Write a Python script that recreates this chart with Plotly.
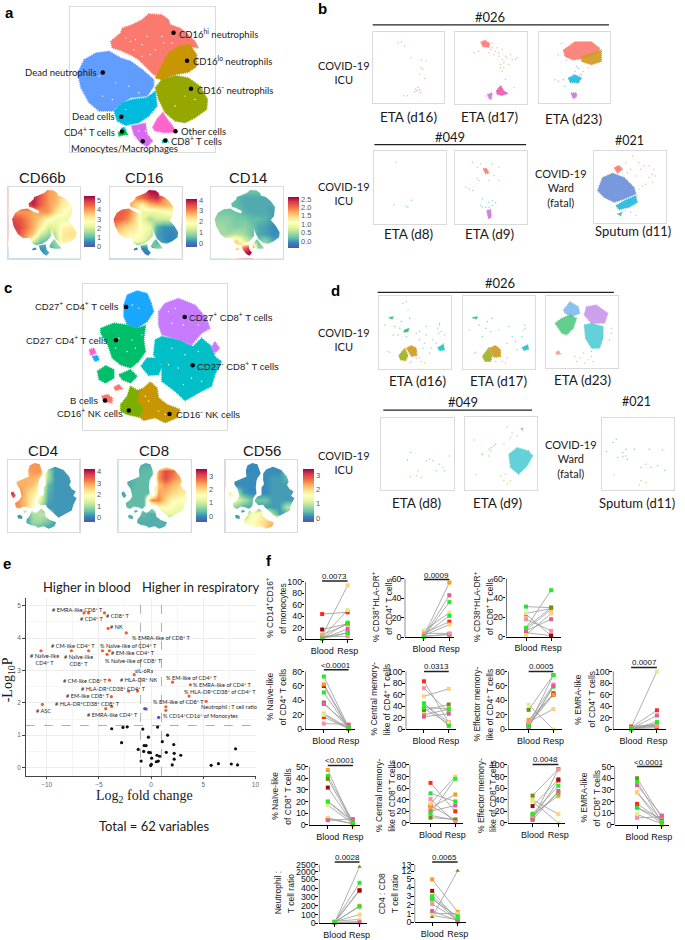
import plotly.graph_objects as go

W, H = 685, 940
SANS = "Liberation Sans"
CAL = "Lato"
SERIF = "Liberation Serif"
SPECTRAL = ["#5E4FA2","#3288BD","#66C2A5","#ABDDA4","#E6F598","#FFFFBF","#FEE08B","#FDAE61","#F46D43","#D53E4F","#9E0142"]
SPEC = [[i/10, c] for i, c in enumerate(SPECTRAL)]

# ---------- panel a: t-SNE cluster outlines (map units) ----------
A_RANGE = (212, 650, 460, 22)
A_CLUSTERS = [
 ("#619CFF", [(255,180),(290,160),(330,155),(365,175),(395,185),(430,210),(465,240),(465,260),(445,290),(395,295),(370,310),(340,335),(300,335),(270,310),(245,265),(235,220)]),
 ("#00BBDD", [(345,335),(370,310),(400,300),(445,295),(470,275),(475,320),(450,350),(420,370),(380,378),(355,365)]),
 ("#FA7A70", [(335,125),(365,100),(370,85),(400,75),(430,60),(450,42),(490,45),(510,60),(515,75),(545,85),(575,110),(590,125),(600,145),(575,140),(530,150),(510,170),(490,205),(480,230),(465,225),(440,200),(420,180),(395,165),(360,150),(340,145)]),
 ("#C89600", [(510,160),(540,140),(575,135),(595,165),(595,200),(570,218),(530,225),(490,240),(470,235),(485,205)]),
 ("#96A800", [(470,265),(490,240),(530,228),(570,235),(605,260),(628,300),(625,330),(590,355),(560,370),(530,365),(500,340),(480,300)]),
 ("#FF66CC", [(462,385),(475,360),(492,340),(510,365),(535,398),(500,400),(470,395)]),
 ("#D86BF0", [(398,380),(440,372),(445,405),(462,425),(445,442),(425,430),(405,405)]),
 ("#00BA38", [(358,400),(378,392),(385,405),(360,410)]),
 ("#00C19F", [(490,425),(505,418),(508,428),(492,430)]),
 ("#00BBDD", [(366,388),(376,384),(380,392),(370,394)]),
]
A_SPECK = [(380,115),(395,125),(410,120),(430,135),(445,110),(490,110),(495,130),(470,150),(455,165),(430,170),(405,150),(520,130),(300,230),(350,250),(390,260),(420,280),(340,300),(310,290),(380,330),(560,290),(530,320),(590,300),(440,395),(420,395)]
A_MASK = [
 [(335,125),(365,100),(370,85),(400,75),(430,60),(450,42),(490,45),(510,60),(515,75),(545,85),(575,110),(600,145),(595,200),(575,225),(605,260),(628,300),(625,330),(590,355),(560,370),(530,365),(500,340),(480,300),(472,275),(475,320),(450,350),(420,370),(380,378),(355,365),(345,335),(300,335),(270,310),(245,265),(235,220),(255,180),(290,160),(330,155),(365,175),(395,185),(400,170),(360,150),(340,145)],
 [(462,385),(475,360),(492,340),(510,365),(535,398),(500,400),(470,395)],
 [(398,380),(440,372),(445,405),(462,425),(445,442),(425,430),(405,405)],
 [(358,400),(378,392),(385,405),(360,410)],
]
A_DOTS = [(525,99),(566,183),(311,219),(578,268),(367,352),(369,397),(531,396),(500,424),(432,426)]

# ---------- panel c ----------
C_RANGE = (250, 688, 487, 48)
C_CLUSTERS = [
 ("#1AA7FF", [(375,110),(385,80),(415,67),(445,75),(458,105),(465,130),(445,160),(415,180),(385,168),(375,145)]),
 ("#00BF6A", [(305,180),(345,165),(385,170),(415,180),(440,172),(435,215),(440,250),(420,280),(395,300),(365,290),(340,270),(325,225),(305,195)]),
 ("#00BF6A", [(295,310),(320,293),(345,305),(345,330),(320,345),(300,335)]),
 ("#00BF6A", [(360,320),(395,305),(415,325),(395,345),(370,335)]),
 ("#00BFC6", [(470,215),(490,205),(540,215),(585,235),(610,210),(640,235),(650,265),(670,280),(650,320),(640,355),(600,375),(560,398),(530,370),(490,340),(490,290),(465,260)]),
 ("#00BFC6", [(427,295),(445,270),(475,270),(490,295),(480,320),(450,322)]),
 ("#C77CFF", [(480,130),(500,105),(540,90),(590,110),(625,150),(635,180),(610,195),(580,230),(540,215),(490,200),(480,170)]),
 ("#C77CFF", [(640,240),(650,220),(665,240),(650,255)]),
 ("#F8766D", [(308,385),(325,380),(340,390),(338,405),(315,402)]),
 ("#F8766D", [(345,358),(360,350),(370,362),(350,368)]),
 ("#FF61CC", [(270,245),(285,240),(290,255),(275,262)]),
 ("#1AA7FF", [(280,265),(295,262),(300,275),(288,280)]),
 ("#C89600", [(410,370),(435,360),(455,342),(475,360),(480,390),(505,410),(545,425),(535,450),(500,465),(470,450),(435,458),(420,445),(435,425),(415,400)]),
 ("#7CAE00", [(365,410),(385,385),(395,355),(420,370),(415,400),(435,425),(420,448),(385,440),(365,430)]),
]
C_SPECK = [(510,130),(530,120),(555,170),(520,165),(575,150),(600,170),(520,240),(560,260),(600,250),(540,300),(580,330),(620,300),(510,290),(555,350),(610,340),(400,110),(420,120),(360,210),(400,215),(385,250),(410,240),(350,240),(430,200),(450,400),(480,430),(500,440),(440,385)]
C_MASK = [
 [(375,110),(385,80),(415,67),(445,75),(458,105),(465,130),(445,160),(440,172),(435,215),(440,250),(420,280),(415,325),(395,345),(370,335),(345,330),(320,345),(300,335),(295,310),(320,293),(335,270),(325,225),(305,195),(305,180),(345,165),(378,150)],
 [(480,130),(500,105),(540,90),(590,110),(625,150),(635,180),(625,200),(640,225),(665,240),(650,265),(670,280),(650,320),(640,355),(600,375),(560,398),(530,370),(490,335),(480,320),(450,322),(427,295),(445,270),(470,260),(470,215),(485,195),(480,170)],
 [(365,410),(385,385),(395,355),(420,370),(435,360),(455,342),(475,360),(480,390),(505,410),(545,425),(535,450),(500,465),(470,450),(435,458),(420,448),(385,440),(365,430)],
 [(308,385),(325,380),(340,390),(338,405),(315,402)],
 [(345,358),(360,350),(370,362),(350,368)],
 [(270,245),(285,240),(300,265),(285,280),(272,260)],
]
C_DOTS = [(382,116),(559,146),(351,216),(583,292),(318,398),(390,428),(513,439)]

# ---------- expression maps: coarse grids ----------
CD66B = [[4.5,4.5,4.5,4.8,4.5,4,3.8,3,3,3],[4.5,4.5,4.8,5.2,4.6,4,3.8,3.2,3,3],[4.5,4.5,4.7,5.2,4.5,4,3.6,3,2.8,2.2],[4,4,4,3.8,4,4,3.2,2.8,2.4,2],[4.8,4.6,4.2,3.8,3.4,2.8,2.4,2.4,2.4,2.2],[5,4.8,4.3,3.8,3,2,2.2,2.8,3,3],[4.8,4.6,4,3.5,2,1.5,1.8,3.1,3.2,3.2],[4,4,3.8,2,1.2,1,1.5,3,3,3],[1,1,.8,.5,.6,.7,1.2,1.2,1.2,1.2],[.5,.5,.5,.3,.3,1,1,1,1,1]]
CD16 = [[3,3,3,3,3.5,4,4,3.5,2,2],[3,3,3,3,3.2,3.6,3.8,3,2.5,2.5],[3,3,3,2.4,2,2.6,2.8,2.8,2.6,2],[3.2,3.4,3.2,2.6,1.6,1.6,1.6,1.8,2,1.6],[3.4,3.3,3,2.4,1.6,1,1.3,1.3,1.3,1],[3,2.6,2.4,2.2,1.8,1.6,.4,.2,.2,.2],[2.6,2.3,2,2,1.8,1.4,.3,.2,.1,.2],[2,2,2,1.8,1.6,1,.4,.2,.1,.2],[0,0,0,0,.1,.3,.8,1,1,1],[0,0,0,0,0,0,1,1,1,1]]
CD14 = [[.2,.2,.2,.2,.2,.2,.2,.2,.2,.2],[.2,.2,.2,.15,.05,.05,.05,.05,.05,.05],[.2,.2,.2,.15,.05,.05,.05,.05,.05,0],[.25,.25,.25,.2,.1,.05,.05,.05,0,0],[.35,.35,.35,.25,.25,.15,.15,.1,0,0],[.45,.45,.35,.3,.35,.25,.05,0,-.1,-.1],[.45,.45,.45,.55,.45,.25,.05,0,-.1,-.1],[.55,.55,1.2,1.5,.8,.45,.25,.35,.05,.05],[.25,.25,.35,1.3,2,2.5,.35,.35,.35,.35],[.25,.25,.25,2,2.6,2.6,.35,.35,.35,.35]]
CD4 = [[3,3,3,3,3,.2,.2,.2,.2,.2],[3,3,2.8,3,3,1,.2,.2,.2,.2],[2.8,2.8,2.8,2.8,2.6,1,.2,.2,.2,.2],[2.8,2.8,2.8,2.6,2.2,.5,.2,.2,.2,.2],[3.8,3.2,2.6,2.2,1.8,.4,.2,.2,.2,.2],[3.5,3,2.6,2,1.6,.3,.2,.2,.2,.2],[3,3,2.6,1.8,1,.2,.2,.2,.2,.2],[.2,.2,.2,1,1.1,1.1,.2,.2,.2,.2],[.2,.2,.2,.9,.9,.6,.3,.2,.2,.2],[.3,.3,.3,.4,.4,.2,.2,.2,.2,.2]]
CD8 = [[.2,.2,.2,.2,.2,.5,1,1,.8,.2],[.2,.2,.2,.3,.3,2.4,3,2.8,2.2,2],[.2,.2,.3,.3,.3,2.5,3,2.6,2.3,2],[.2,.2,.3,.3,.3,2.2,2.5,2.2,2,1.8],[.1,.3,.3,.3,.3,2.4,2.2,2,1.8,1.8],[.2,.3,.3,.3,2.6,2.6,2,1.6,1.5,1.5],[.3,.3,.3,.3,.7,1.6,1.6,1.4,1.3,1.3],[.2,.2,.3,.3,.2,.2,1.2,1.2,1.2,1.2],[.2,.2,.2,.2,.2,.2,.2,.2,.2,.2],[.2,.2,.2,.2,.2,.2,.2,.2,.2,.2]]
CD56 = [[.1,.1,.1,.1,.1,.1,.1,.1,.1,.1],[.1,.1,.1,.1,.1,.1,.1,.1,.5,.8],[.1,.1,.1,.1,.1,.1,.2,.2,.4,.9],[.1,.1,.1,.1,.1,.1,.2,.2,.2,.2],[1.8,.9,.2,.1,.1,.1,.2,.2,.2,.2],[1.4,1.2,.9,.5,.5,.5,.2,.2,.2,.2],[.9,.6,.3,.3,.2,.2,.2,.2,.9,.9],[.2,.2,.2,1.4,1.6,1.8,.8,.2,.2,.2],[.2,.2,1.4,1.5,1.7,2,2.2,2.3,1.6,1.4],[.2,.2,1.4,1.5,1.6,2,2.6,2.5,1.5,1.4]]

# ---------- panels b & d: sparse samples; (colour, polygon-or-points) ----------
SAL, GOLD, OLV, BLU, CYN, MAG, ORC, GRN, TEAL, PUR, LBL = "#FA7A70","#D09A20","#A0B020","#6A8FD8","#22B8DD","#EE55B5","#C878E0","#22BB60","#22BFC8","#B878E8","#5AA8E8"
B1_PTS = [(SAL,[(215,130),(225,128),(235,140),(255,175),(300,185),(232,290),(243,290)]),(GOLD,[(285,183)]),(OLV,[(285,205),(280,225),(295,238),(290,210)]),(MAG,[(268,270),(272,275),(280,272),(265,278),(283,280),(275,265)])]
B1_POL = []
B2_PTS = [(SAL,[(500,145),(510,155),(520,160),(495,150),(505,165),(490,160),(530,150),(520,170),(445,160),(458,155),(500,130),(515,145)]),(GOLD,[(530,180),(545,175),(560,180),(570,180),(550,195),(535,190),(575,175),(540,170),(555,165)]),(OLV,[(525,205),(530,215),(535,205),(525,195),(540,240),(565,265)]),(ORC,[(480,290)])]
B2_POL = [(SAL,[(465,128),(478,122),(492,132),(490,143),(472,142)]),(MAG,[(512,275),(525,258),(535,275),(547,282),(530,288),(515,285)]),(ORC,[(485,285),(500,280),(497,300),(490,297)])]
B3_PTS = [(SAL,[(710,130),(700,165),(725,180)]),(BLU,[(755,200),(750,215),(760,205),(745,225),(700,245),(690,240),(715,240)]),(OLV,[(790,205),(775,215),(765,225)]),(CYN,[(720,260),(770,225)])]
B3_POL = [(SAL,[(715,150),(750,125),(800,125),(825,145),(820,160),(780,175),(745,180),(720,170)]),(GOLD,[(770,170),(800,160),(830,150),(830,185),(800,195),(770,185)]),(CYN,[(730,235),(750,225),(770,235),(760,250),(735,248)]),(ORC,[(738,280),(755,280),(755,292),(745,298)])]
B4_PTS = [(SAL,[(208,490)]),(CYN,[(203,618),(240,622),(256,604),(245,625)])]
B4_POL = []
B5_PTS = [(SAL,[(455,505),(500,495),(520,505),(505,530),(520,545),(465,495),(440,490)]),(PUR,[(460,545),(455,540),(490,545),(430,570),(420,565),(440,575)]),(CYN,[(470,600),(490,610),(500,605),(510,612),(480,625),(465,620),(490,625),(470,625),(500,620)])]
B5_POL = [(SAL,[(472,510),(482,508),(490,522),(480,525)]),(ORC,[(483,635),(495,632),(497,655),(488,660)])]
B6_PTS = [(SAL,[(905,490),(925,470),(945,490),(960,500),(920,510),(950,510),(975,500),(990,510),(935,530),(910,520)]),(GOLD,[(985,525),(995,530),(975,535),(965,555),(985,550)]),(OLV,[(945,570),(935,580),(955,560),(940,590)]),(ORC,[(905,635),(920,640),(935,650),(895,640)])]
B6_POL = [(BLU,[(825,560),(835,535),(865,522),(900,535),(930,565),(935,585),(900,600),(870,610),(840,595),(820,575)]),(SAL,[(870,505),(885,498),(895,510),(880,522)]),(CYN,[(875,620),(900,605),(935,590),(940,610),(915,625),(885,632)]),(GRN,[(880,645),(892,642),(890,650)])]

D1_PTS = [(GRN,[(175,170),(205,175),(220,180),(215,200),(225,160),(250,150),(200,200),(240,205)]),(GOLD,[(270,270),(285,280),(295,285),(255,280),(250,285),(280,268)]),(TEAL,[(340,170),(345,190),(338,195),(335,180),(280,190),(300,175),(300,200),(320,215),(295,225),(315,240),(310,255),(330,225),(280,215),(290,240),(270,195),(355,200)]),(PUR,[(340,165)]),(SAL,[(185,250),(190,252)]),(LBL,[(240,100),(230,105),(245,125)])]
D1_POL = [(GRN,[(187,148),(200,145),(197,153)]),(GRN,[(235,185),(248,180),(245,190),(232,192)]),(OLV,[(217,262),(235,240),(245,262),(238,278),(222,275)]),(GOLD,[(240,240),(255,232),(270,240),(272,262),(255,265)]),(TEAL,[(335,238),(352,228),(355,245),(340,248)])]
D2_PTS = [(GRN,[(460,170),(480,180),(495,190),(470,205),(485,160),(500,150)]),(GOLD,[(530,280),(545,270),(540,285),(510,280)]),(TEAL,[(598,170),(595,185),(600,180),(520,185),(550,175),(560,205),(570,220),(545,225),(575,245),(590,205)]),(SAL,[(445,255),(450,252),(430,185)])]
D2_POL = [(GRN,[(440,148),(455,145),(452,152)]),(OLV,[(470,265),(488,240),(500,262),(495,280),(478,280)]),(GOLD,[(490,240),(510,232),(525,245),(525,265),(505,268)]),(TEAL,[(590,238),(607,230),(610,243),(595,247)])]
D3_PTS = [(GOLD,[(750,265),(775,255),(800,265),(805,280),(780,285),(755,280),(765,270),(790,275)]),(TEAL,[(860,195),(855,215),(800,250)]),(PUR,[(862,180)])]
D3_POL = [(LBL,[(715,125),(735,100),(760,115),(765,135),(740,145),(720,135)]),(GRN,[(690,165),(710,150),(735,140),(755,150),(745,180),(725,200),(710,195),(700,180)]),(TEAL,[(778,170),(800,165),(835,175),(835,210),(825,240),(800,240),(782,210)]),(PUR,[(778,140),(785,115),(815,110),(850,135),(840,165),(800,165)]),(SAL,[(692,253),(700,248),(707,257),(695,260)])]
D4_PTS = [(TEAL,[(300,580),(320,580),(340,590),(350,600),(330,610),(355,610),(370,565),(310,575)]),(GRN,[(243,577),(253,555)]),(GOLD,[(252,628),(275,610),(285,630),(270,625)])]
D4_POL = []
D5_PTS = [(GRN,[(490,545),(497,540),(505,535),(510,530),(470,560),(490,565),(445,517),(495,550)]),(PUR,[(545,478),(560,495),(555,510),(575,505),(535,530),(610,550)]),(GOLD,[(540,620),(525,625),(535,640),(555,640),(545,650)]),(SAL,[(450,621)])]
D5_POL = [(TEAL,[(550,560),(575,540),(610,550),(622,565),(605,595),(580,620),(555,600)]),(PUR,[(586,482),(592,481),(592,488)])]
D6_PTS = [(GRN,[(880,570),(895,568),(905,565),(908,575),(895,555),(930,545),(905,545),(875,515),(865,525),(975,545),(1015,547),(1022,608)]),(SAL,[(868,622)]),(MAG,[(845,552)]),(GOLD,[(945,652),(965,645),(950,640)]),(TEAL,[(965,590),(980,600),(1000,595),(950,600)])]
D6_POL = []

# ---------- panel e: volcano ----------
E_RED_X = [-6.42,-5.98,-4.46,-4.11,-2.37,-10.54,-7.63,-5.98,-4.65,-3.99,-4.21,-1.61,-3.99,-1.30,-2.15,-3.80,-3.77,-4.34,-10.41,2.06,3.77,3.64,5.28,1.42,1.42]
E_RED_Y = [4.78,4.78,4.78,4.30,4.16,3.61,3.61,3.61,3.61,3.61,3.50,2.87,2.70,2.37,2.36,2.19,1.89,1.82,1.95,2.64,2.56,2.21,2.05,1.88,1.77]
E_BLUE_X = [-0.6,-0.47,0.73]
E_BLUE_Y = [1.82,1.81,1.55]
E_BLK_X = [-3.77,-2.69,-2.28,-0.79,0.63,-0.25,1.58,-2.82,-0.66,-0.47,1.08,2.18,-1.23,-0.70,-0.22,-0.06,1.46,2.22,2.85,0.57,0.82,0.06,2.22,-0.95,0.7,0.51,0.03,-0.03,2.03,5.76,6.46,7.69,8.1,8.29]
E_BLK_Y = [1.20,1.24,1.26,1.19,1.25,0.94,1.0,0.77,0.68,0.68,0.80,0.71,0.56,0.50,0.47,0.46,0.47,0.44,0.38,0.38,0.35,0.29,0.26,0.20,0.2,0.18,0.10,0.06,0.08,0.07,0.12,0.11,0.58,0.08]
E_LABELS = [
 ("# EMRA-like CD8<sup>+</sup> T",235,157),("# CD4<sup>+</sup> T",276,186),("# CD8<sup>+</sup> T",357,175),("# NK",352,211),
 ("% EMRA-like of CD8<sup>+</sup> T",490,243),("# CM-like CD4<sup>+</sup> T",222,268),("% Naïve-like of CD4<sup>+</sup> T",388,268),
 ("# EM-like CD4<sup>+</sup> T",403,288),("# Naïve-like<br>CD4<sup>+</sup> T",134,308),("# Naïve-like<br>CD8<sup>+</sup> T",237,310),
 ("% Naïve-like of CD8<sup>+</sup> T",405,311),("sIL-6Ra",435,342),("# CM-like CD8<sup>+</sup> T",257,373),("# HLA-DR<sup>+</sup> NK",420,369),
 ("% EM-like of CD4<sup>+</sup> T",580,363),("% EMRA-like of CD4<sup>+</sup> T",672,384),("% HLA-DR<sup>+</sup>CD38<sup>+</sup> of CD4<sup>+</sup> T",666,406),
 ("# HLA-DR<sup>+</sup>CD38<sup>+</sup> CD4<sup>+</sup> T",344,396),("# EM-like CD8<sup>+</sup> T",267,419),("% EM-like of CD8<sup>+</sup> T",540,435),
 ("# HLA-DR<sup>+</sup>CD38<sup>+</sup> CD8<sup>+</sup> T",264,441),("Neutrophil : T cell ratio",693,452),("# ASC",132,462),
 ("# EMRA-like CD4<sup>+</sup> T",340,476),("% CD14<sup>+</sup>CD16<sup>+</sup> of Monocytes",608,479),
]

# ---------- panel f: paired values, one entry per subject ----------
SUBJ = ["#FF2A1A","#9C0A0A","#FF9A1A","#FFD27A","#D9F08A","#1FE82A","#6E8F10","#FF8FA0","#D9609A","#22EE22"]
CATS = ["Blood","Resp"]
F1 = ([44,17,8,6,3,2,4,5,1,1],[47,27,26,94,51,29,11,5,18,11])
F2 = ([4,1,1.5,2,7,2.5,1,4,1,.5],[16,3,56,13,25,22,3,4,43,36])
F3 = ([23,4,7,2,24,31,9,18,6,9],[1,1,28,24,29,30,30,6,18,48])
F4 = ([17,60,62,22,20,51,37,8,35,73],[1,1,3,2,1,1,2,7,6,3])
F5 = ([83,36,25,57,44,45,33,71,22,38],[12,10,35,70,12,6,43,30,27,35])
F6 = ([8,6,13,10,34,4,27,11,3,5],[50,48,48,28,0,59,75,62,60,75])
F7 = ([3,1,2,5,3,0,5,2,1,0],[33,3,5,7,100,10,8,6,24,13])
F8 = ([5,32,47,6,17,42,39.5,20,4,20],[1,1,0,1,1,3,1,4,5,2])
F9 = ([69,30,26,33,13,51,9,41,20,16],[20,5,49,80,5,37,6,1,30,76])
F10 = ([7,29,14,40,37,11,47,8,5,16],[73,75,47,15,0,52,93,92,55,64])
F11 = ([18,15,28,28,9,15,40,6,34,37],[4,5,0,4,1,2,6,7,8,2])
F12 = ([15,10,12,20,25,15,8,10,12,18],[380,370,200,100,45,190,2350,20,10,460])
F13 = ([2.8,3.6,4.9,1,.8,2.6,.6,2.1,1.3,3],[.2,.1,1.2,1,.3,.7,12.1,.3,.2,.5])
Y_TICKS = {"60":[0,20,40,60],"80":[0,20,40,60,80],"100":[0,20,40,60,80,100],"50":[0,10,20,30,40,50]}
# data, spine x, right x, blood x, resp x, y0 px, top px, tick set, p, bar level, title, title x, title y
F_PANELS = [
 (F1,308,356,325,350.7,642.7,585,"100","0.0073",101.7,"% CD14<sup>+</sup>CD16<sup>+</sup><br>of monocytes",279,611),
 (F2,408.3,458,427.7,453.3,640.7,581.7,"60","0.0009",59,"% CD38<sup>+</sup>HLA-DR<sup>+</sup><br>of CD4<sup>+</sup> T cells",386,610),
 (F3,510.7,566,530.7,556,640,581.7,"60",None,None,"% CD38<sup>+</sup>HLA-DR<sup>+</sup><br>of CD8<sup>+</sup> T cells",488,610),
 (F4,308,358,326.7,351.7,733.3,675,"80","<0.0001",82.3,"% Naïve-like<br>of CD4<sup>+</sup> T cells",279,700),
 (F5,409.3,460,427.7,452.7,733.3,675,"100","0.0313",100,"% Central memory-<br>like of CD4<sup>+</sup> T cells",384,703),
 (F6,512.7,566.7,533.3,558.3,733.3,675,"80","0.0005",80,"% Effector memory-<br>like of CD4<sup>+</sup> T cells",488,708),
 (F7,618.3,671.7,636.7,662.7,733.3,675,"100","0.0007",106.9,"% EMRA-like<br>of CD4<sup>+</sup> T cells",590,703),
 (F8,311.7,363,330.7,356,829.3,770.7,"50","<0.0001",51,"% Naïve-like<br>of CD8<sup>+</sup> T cells",284,800),
 (F9,413.3,466.7,434.3,459.3,827.3,769,"100",None,None,"% Central memory-<br>like of CD8<sup>+</sup> T cells",389,800),
 (F10,512.3,570,537.3,563.3,827.3,769,"100","0.0048",100.9,"% Effector memory-<br>like of CD8<sup>+</sup> T cells",491,800),
 (F11,620,675,642.7,667.7,829.3,770.7,"50","<0.0001",50,"% EMRA-like<br>of CD8<sup>+</sup> T cells",595.5,802),
]
F12_BREAK = dict(low_top=500, up_from=2000, up_to=2500, d_from=583, d_to=666, ticks=[0,100,200,300,400,500,2000,2500], bar=696, p="0.0028")
F13_BREAK = dict(low_top=5, up_from=12, up_to=13, d_from=5.83, d_to=6.59, ticks=[0,1,2,3,4,5,12,13], bar=6.9, p="0.0065")

# ---------- text ----------
A_TEXT = [("CD16<sup>hi</sup> neutrophils",536,100,"left"),("CD16<sup>lo</sup> neutrophils",577,183,"left"),("Dead neutrophils",300,220,"right"),("CD16<sup>-</sup> neutrophils",590,269,"left"),("Dead cells",355,352,"right"),("CD4<sup>+</sup> T cells",355,397,"right"),("Other cells",542,396,"left"),("CD8<sup>+</sup> T cells",512,425,"left"),("Monocytes/Macrophages",376,447,"center")]
C_TEXT = [("CD27<sup>+</sup> CD4<sup>+</sup> T cells",367,114,"right"),("CD27<sup>+</sup> CD8<sup>+</sup> T cells",567,146,"left"),("CD27<sup>-</sup> CD4<sup>+</sup> T cells",334,216,"right"),("CD27<sup>-</sup> CD8<sup>+</sup> T cells",591,294,"left"),("B cells",304,399,"right"),("CD16<sup>+</sup> NK cells",377,436,"right"),("CD16<sup>-</sup> NK cells",527,439,"left")]

fig = go.Figure()
layout_axes = {}
annos = []
shapes = []
n_ax = 0

def new_axes(x0, x1, ytop, ybot, xr, yr, x_opts=None, y_opts=None):
    global n_ax
    n_ax += 1
    s = "" if n_ax == 1 else str(n_ax)
    layout_axes["xaxis"+s] = dict(domain=[x0/W, x1/W], range=list(xr), anchor="y"+s, **(x_opts or {}))
    layout_axes["yaxis"+s] = dict(domain=[1-ybot/H, 1-ytop/H], range=list(yr), anchor="x"+s, **(y_opts or {}))
    return "x"+s, "y"+s

FRAME = dict(showgrid=False, zeroline=False, showticklabels=False, ticks="", showline=True, mirror=True, linecolor="#DADADA", linewidth=1)

def T(x, y, text, size=10, font=CAL, color="#1a1a1a", anchor="center", angle=0, bold=False):
    if bold:
        text = "<b>"+text+"</b>"
    annos.append(dict(x=x/W, y=1-y/H, xref="paper", yref="paper", text=text, showarrow=False, xanchor=anchor, yanchor="middle",
                      font=dict(family=font, size=size, color=color), textangle=angle, align="center"))

def V2(x, y, text, gap=13, size=8.5):
    a, b = text.split("<br>")
    T(x-gap/2, y, a, size=size, font=SANS, angle=-90)
    T(x+gap/2, y, b, size=size, font=SANS, angle=-90)

def poly(ax, color, pts, opacity=1.0, lw=0.8, dash=None):
    xs = [p[0] for p in pts]+[pts[0][0]]
    ys = [p[1] for p in pts]+[pts[0][1]]
    fig.add_trace(go.Scatter(x=xs, y=ys, mode="lines", fill="toself", fillcolor=color, opacity=opacity,
                             line=dict(color=color, width=lw, dash=dash), xaxis=ax[0], yaxis=ax[1], showlegend=False, hoverinfo="skip"))

def winding(p):
    return sum(p[i][0]*p[(i+1) % len(p)][1]-p[(i+1) % len(p)][0]*p[i][1] for i in range(len(p)))

def mask(ax, rng, islands):
    xl, xr, yb, yt = rng
    outer = [(xl, yt), (xr, yt), (xr, yb), (xl, yb)]
    sign = winding(outer) > 0
    xs = [p[0] for p in outer]+[xl, None]
    ys = [p[1] for p in outer]+[yt, None]
    for isl in islands:
        q = list(isl) if (winding(isl) > 0) != sign else list(isl)[::-1]
        xs += [p[0] for p in q]+[q[0][0], None]
        ys += [p[1] for p in q]+[q[0][1], None]
    fig.add_trace(go.Scatter(x=xs[:-1], y=ys[:-1], mode="lines", fill="toself", fillcolor="white", line=dict(width=0, color="white"),
                             xaxis=ax[0], yaxis=ax[1], showlegend=False, hoverinfo="skip"))

def tsne_panel(box, rng, clusters, dots, specks):
    ax = new_axes(box[0], box[1], box[2], box[3], rng[:2], rng[2:], FRAME, FRAME)
    for c, p in clusters:
        poly(ax, c, p, lw=1.6, dash="1px,1px")
    fig.add_trace(go.Scatter(x=[d[0] for d in specks], y=[d[1] for d in specks], mode="markers", marker=dict(color="white", size=1.4),
                             xaxis=ax[0], yaxis=ax[1], showlegend=False, hoverinfo="skip"))
    fig.add_trace(go.Scatter(x=[d[0] for d in dots], y=[d[1] for d in dots], mode="markers", marker=dict(color="black", size=4.5),
                             xaxis=ax[0], yaxis=ax[1], showlegend=False, hoverinfo="skip"))

def expr_panel(box, rng, grid, islands, cb, zr, ticks, ticktext=None):
    ax = new_axes(box[0], box[1], box[2], box[3], rng[:2], rng[2:], FRAME, FRAME)
    nx, ny = len(grid[0]), len(grid)
    xs = [rng[0]+(rng[1]-rng[0])*(i+.5)/nx for i in range(nx)]
    ys = [rng[3]+(rng[2]-rng[3])*(j+.5)/ny for j in range(ny)]
    fig.add_trace(go.Heatmap(x=xs, y=ys, z=grid, zsmooth="best", colorscale=SPEC, zmin=zr[0], zmax=zr[1], xaxis=ax[0], yaxis=ax[1], hoverinfo="skip",
        colorbar=dict(x=cb[0]/W, xanchor="left", y=1-cb[2]/H, yanchor="top", thickness=cb[1]-cb[0], thicknessmode="pixels", len=cb[3]-cb[2], lenmode="pixels",
                      xpad=0, ypad=0, outlinewidth=0, ticks="", tickvals=ticks, ticktext=ticktext or [str(t) for t in ticks], tickfont=dict(family=SANS, size=7.5, color="#555"))))
    mask(ax, rng, islands)

def sparse_panel(box, rng, pols, pts, op=0.9):
    ax = new_axes(box[0], box[1], box[2], box[3], rng[:2], rng[2:], FRAME, FRAME)
    for c, p in pols:
        poly(ax, c, p, opacity=op, lw=1.2, dash="1px,1px")
    for c, p in pts:
        fig.add_trace(go.Scatter(x=[q[0] for q in p], y=[q[1] for q in p], mode="markers", marker=dict(color=c, size=1.5, opacity=.55),
                                 xaxis=ax[0], yaxis=ax[1], showlegend=False, hoverinfo="skip"))

# panel a, c
tsne_panel((70.7,216.7,7.3,153.3), A_RANGE, A_CLUSTERS, A_DOTS, A_SPECK)
for t, x, y, a in A_TEXT:
    T(x/3, y/3, t, size=9.5, anchor=a)
tsne_panel((83.3,229.3,286,432.3), C_RANGE, C_CLUSTERS, C_DOTS, C_SPECK)
for t, x, y, a in C_TEXT:
    T(x/3, 270+y/3, t, size=9.5, font=SANS, anchor=a)

expr_panel((8.3,81,187.7,260), A_RANGE, CD66B, A_MASK, (85,95.7,197.3,248.3), (-.07,5.47), [0,1,2,3,4,5])
expr_panel((110.7,183.3,187.7,260), A_RANGE, CD16, A_MASK, (187.7,198.3,200,248.3), (-.3,4.09), [0,1,2,3,4])
expr_panel((212.7,285.7,187.7,260), A_RANGE, CD14, A_MASK, (290.7,301.3,198.3,249.3), (-.43,2.6), [0,.5,1,1.5,2,2.5], ["0.0","0.5","1.0","1.5","2.0","2.5"])
expr_panel((7.7,80.3,462.3,535.3), C_RANGE, CD4, C_MASK, (85,95.7,471.7,524.3), (-.38,4.2), [0,1,2,3,4])
expr_panel((119.3,192.3,462.3,535.3), C_RANGE, CD8, C_MASK, (197.3,208,471.7,524.3), (-.45,3.5), [0,1,2,3])
expr_panel((227.3,300,462.3,535.3), C_RANGE, CD56, C_MASK, (306,316.7,471.7,524.3), (-.3,3.4), [0,1,2,3])
for t, x, y in [("CD66b",42.7,178),("CD16",145.7,178),("CD14",250,178),("CD4",43.3,453),("CD8",155.7,453),("CD56",264,452.7)]:
    T(x, y, t, size=15, font=SANS)

# panel b
sparse_panel((376,448.3,32,104), (138,355,313,97), B1_POL, B1_PTS)
sparse_panel((458.7,531.3,32,105), (386,604,315,97), B2_POL, B2_PTS)
sparse_panel((543.3,615.7,32,104), (640,857,312,95), B3_POL, B3_PTS)
sparse_panel((377,450,152,225), (142,360,675,457), B4_POL, B4_PTS)
sparse_panel((459,531.7,152,225), (387,605,675,457), B5_POL, B5_PTS)
sparse_panel((599,672,152,224), (808,1027,672,455), B6_POL, B6_PTS)
# panel d
sparse_panel((382.3,454.7,298,370.7), (157,374,302,84), D1_POL, D1_PTS)
sparse_panel((467.3,539.7,298,370.7), (412,629,302,84), D2_POL, D2_PTS)
sparse_panel((550.7,623.3,297.3,370), (662,880,300,82), D3_POL, D3_PTS, op=.7)
sparse_panel((384.7,457.7,420.3,492.7), (164,383,668,451), D4_POL, D4_PTS)
sparse_panel((469.3,542,419.7,492.7), (418,636,668,449), D5_POL, D5_PTS, op=.7)
sparse_panel((607,679.7,420.3,493), (831,1049,669,451), D6_POL, D6_PTS)

for x0, x1, y in [(376,614.3,25),(377.7,530.7,145.3),(381,619.3,294),(386.7,536.7,412.3)]:
    shapes.append(dict(type="line", xref="paper", yref="paper", x0=x0/W, x1=x1/W, y0=1-y/H, y1=1-y/H, line=dict(color="#222", width=1.2)))
for t, x, y, s in [("#026",494.3,16.7,13),("#049",454,137.7,13),("#021",635,141,12.5),("#026",504.3,284.3,13),("#049",466.7,404.3,13),("#021",642.3,404,12.5),
                ("ETA (d16)",411.7,117.7,13.5),("ETA (d17)",493.7,117.7,13.5),("ETA (d23)",578.3,119.3,13.5),("ETA (d8)",411.7,235,13.5),("ETA (d9)",494.3,235,13.5),("Sputum (d11)",638.3,232.3,13),
                ("ETA (d16)",421,382.7,13.5),("ETA (d17)",502.7,382.7,13.5),("ETA (d23)",587.7,381.7,13.5),("ETA (d8)",420,506,13.5),("ETA (d9)",502.3,506,13.5),("Sputum (d11)",642.7,506,13)]:
    T(x, y, t, size=s)
for x, y in [(347,73),(347,194.5),(347,341.3),(347,464.7)]:
    T(x, y, "COVID-19<br>ICU", size=11)
T(566,189,"COVID-19<br>Ward<br>(fatal)",size=11)
T(575.7,461.5,"COVID-19<br>Ward<br>(fatal)",size=11)

# panel letters
for t, x, y in [("a",10,12.7),("b",325,9),("c",8,289),("d",338,291.7),("e",6.7,566.7),("f",271.7,563.3)]:
    T(x, y, t, size=15, bold=True, color="black", font=SANS)

# panel e
e_ax = new_axes(26, 258.3, 600.7, 780, (-12,10.06), (-.256,5.256),
    dict(showline=True, linecolor="#444", linewidth=1.2, zeroline=False, showgrid=True, gridcolor="#EDEDED", gridwidth=1, tickvals=[-10,-5,0,5,10], ticktext=["−10","−5","0","5","10"],
         ticks="outside", ticklen=2.5, tickcolor="#444", tickfont=dict(family=SANS, size=6.5, color="#666"), minor=dict(dtick=2.5, showgrid=True, gridcolor="#F5F5F5")),
    dict(showline=True, linecolor="#444", linewidth=1.2, zeroline=False, showgrid=True, gridcolor="#EDEDED", gridwidth=1, tickvals=[0,1,2,3,4,5],
         ticks="outside", ticklen=2.5, tickcolor="#444", tickfont=dict(family=SANS, size=6.5, color="#666"), minor=dict(dtick=.5, showgrid=True, gridcolor="#F5F5F5")))
for xs, ys in [([-1,-1],[-.256,5.256]),([1,1],[-.256,5.256]),([-12,10.06],[1.3,1.3])]:
    fig.add_trace(go.Scatter(x=xs, y=ys, mode="lines", line=dict(color="#999", width=.8, dash="dash"), xaxis=e_ax[0], yaxis=e_ax[1], showlegend=False, hoverinfo="skip"))
for xs, ys, c in [(E_BLK_X,E_BLK_Y,"#111"),(E_BLUE_X,E_BLUE_Y,"#5A4FC8"),(E_RED_X,E_RED_Y,"#FA5A28")]:
    fig.add_trace(go.Scatter(x=xs, y=ys, mode="markers", marker=dict(color=c, size=3.2), xaxis=e_ax[0], yaxis=e_ax[1], showlegend=False, hoverinfo="skip"))
for t, x, y in E_LABELS:
    T(x/3, 560+y/3, t, size=5.6, font=CAL, color="#222")
T(87.7,590,"Higher in blood",size=13)
T(202.3,590,"Higher in respiratory",size=13)
T(145.7,800.7,"Log<sub>2</sub> fold change",size=14,font=SERIF)
T(8,683,"-Log<sub>10</sub>P",size=14,font=SERIF,angle=-90)
T(155,830,"Total = 62 variables",size=13)

# panel f: the y-axis range holds a little headroom above the top tick for the p-value bar
HEAD = 12
def f_axes(spine_x, right, bx, rx, y0, top, d_top, yvals, ytext):
    unit = rx-bx
    xr = ((spine_x-bx)/unit, (right-bx)/unit)
    d_head = d_top*(1+HEAD/(y0-top))
    ax = new_axes(spine_x, right, top-HEAD, y0, xr, (0, d_head),
        dict(showline=True, linecolor="black", linewidth=1, showgrid=False, zeroline=False, tickvals=[0,1], ticktext=CATS, ticks="outside", ticklen=3, tickcolor="black",
             tickfont=dict(family=SANS, size=9, color="#111")),
        dict(showline=False, showgrid=False, zeroline=False, tickvals=yvals, ticktext=ytext, ticks="outside", ticklen=2.5, tickcolor="black", ticklabelstandoff=-2,
             tickfont=dict(family=SANS, size=8.8, color="#111")))
    return ax, xr

def spine(ax, xr, ys):
    fig.add_trace(go.Scatter(x=[xr[0]]*len(ys), y=ys, mode="lines", line=dict(color="black", width=1), cliponaxis=False, xaxis=ax[0], yaxis=ax[1], showlegend=False, hoverinfo="skip"))

def f_marks(ax, blood, resp, symbols=None):
    xs, ys = [], []
    for b, r in zip(blood, resp):
        xs += [0, 1, None]; ys += [b, r, None]
    fig.add_trace(go.Scatter(x=xs, y=ys, mode="lines", line=dict(color="#9a9a9a", width=.8), cliponaxis=False, xaxis=ax[0], yaxis=ax[1], showlegend=False, hoverinfo="skip"))
    fig.add_trace(go.Scatter(x=[0]*len(blood)+[1]*len(resp), y=list(blood)+list(resp), mode="markers", cliponaxis=False,
                             marker=dict(color=SUBJ+SUBJ, size=4, symbol=(symbols or ["square"]*10)*2), xaxis=ax[0], yaxis=ax[1], showlegend=False, hoverinfo="skip"))

def f_p(ax, p, level):
    fig.add_trace(go.Scatter(x=[0,1], y=[level,level], mode="lines", line=dict(color="#222", width=1.5), cliponaxis=False, xaxis=ax[0], yaxis=ax[1], showlegend=False, hoverinfo="skip"))
    annos.append(dict(x=.5, y=level, xref=ax[0], yref=ax[1], text=p, showarrow=False, yanchor="bottom", yshift=-2, font=dict(family=SANS, size=8, color="#111")))

for data, sp, rt, bx, rx, y0, top, tk, p, lvl, title, tx, ty in F_PANELS:
    tv = Y_TICKS[tk]
    ax, xr = f_axes(sp, rt, bx, rx, y0, top, tv[-1], tv, [str(v) for v in tv])
    spine(ax, xr, [0, tv[-1]])
    f_marks(ax, data[0], data[1])
    if p:
        f_p(ax, p, lvl)
    V2(tx, ty, title)

def broken(data, brk, sp, rt, bx, rx, y0, top, title, tx, ty):
    def tr(v):
        if v <= brk["low_top"]:
            return v
        return brk["d_from"]+(v-brk["up_from"])*(brk["d_to"]-brk["d_from"])/(brk["up_to"]-brk["up_from"])
    ticks = brk["ticks"]
    ax, xr = f_axes(sp, rt, bx, rx, y0, top, brk["d_to"], [tr(t) for t in ticks], [str(t) for t in ticks])
    spine(ax, xr, [0, brk["low_top"], None, brk["d_from"], brk["d_to"]])
    sym = ["square"]*10
    sym[6] = "triangle-up"
    f_marks(ax, [tr(v) for v in data[0]], [tr(v) for v in data[1]], sym)
    f_p(ax, brk["p"], brk["bar"])
    V2(tx, ty, title)

broken(F12, F12_BREAK, 321.7, 370, 337.7, 362.7, 928.3, 869.3, "Neutrophil :<br>T cell ratio", 287, 898)
broken(F13, F13_BREAK, 418.3, 470, 436, 461.7, 927.3, 869.3, "CD4 : CD8<br>T cell ratio", 392, 899)

fig.update_layout(width=W, height=H, margin=dict(l=0, r=0, t=0, b=0), paper_bgcolor="white", plot_bgcolor="white", showlegend=False,
                  annotations=annos, shapes=shapes, **layout_axes)
fig.write_html("out.html", config={"displayModeBar": False}, post_script="document.body.style.margin='0';document.documentElement.style.overflow='hidden';")
